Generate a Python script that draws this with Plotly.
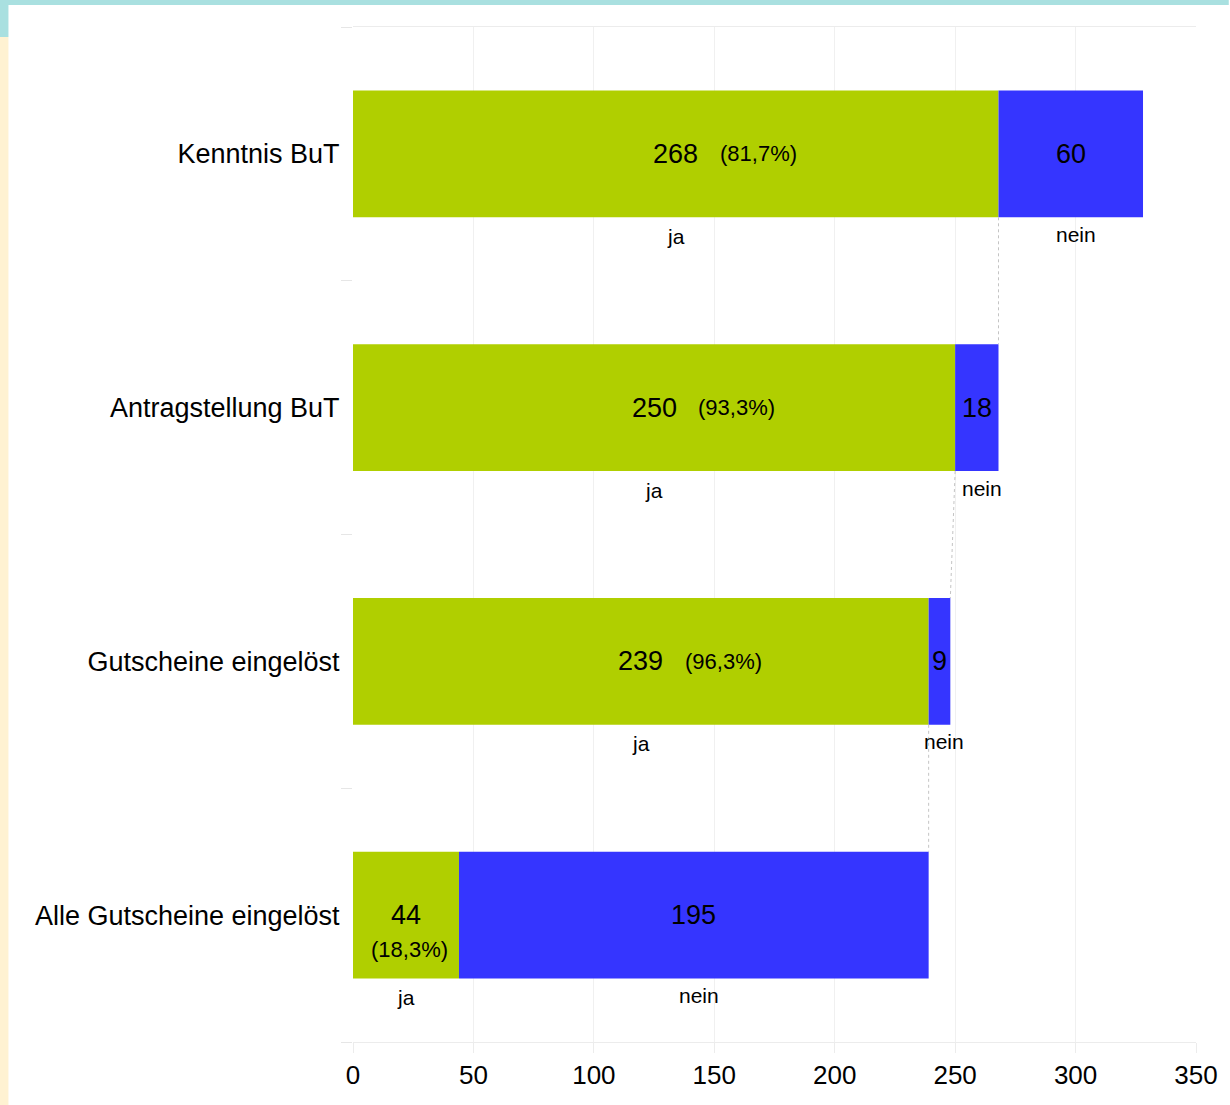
import plotly.graph_objects as go

categories = ["Kenntnis BuT", "Antragstellung BuT", "Gutscheine eingelöst", "Alle Gutscheine eingelöst"]
ja_values = [268, 250, 239, 44]
nein_values = [60, 18, 9, 195]
ja_pct = ["(81,7%)", "(93,3%)", "(96,3%)", "(18,3%)"]
seg_labels = ["ja", "nein"]
x_ticks = [0, 50, 100, 150, 200, 250, 300, 350]
title_text = "von Gutscheinen"

GREEN = "#B0CF00"
BLUE = "#3535FF"
FONT = "Liberation Sans, Arial, sans-serif"

W, H = 1230, 1105
ML, MR, MT, MB = 353, 28, 27, 63
PW, PH = W - ML - MR, H - MT - MB

def px_x(p):
    return (p - ML) / PW

def px_y(p):
    return (H - MB - p) / PH

ypos = list(range(len(categories)))
totals = [a + b for a, b in zip(ja_values, nein_values)]

fig = go.Figure()
fig.add_trace(go.Bar(y=ypos, x=ja_values, orientation="h", width=0.5,
                     marker=dict(color=GREEN, line=dict(width=0)), hoverinfo="skip",
                     showlegend=False))
fig.add_trace(go.Bar(y=ypos, x=nein_values, base=ja_values, orientation="h", width=0.5,
                     marker=dict(color=BLUE, line=dict(width=0)), hoverinfo="skip",
                     showlegend=False))

# connector lines: end of "ja" segment -> end of next bar
for i in range(len(categories) - 1):
    fig.add_trace(go.Scatter(x=[ja_values[i], totals[i + 1]], y=[i + 0.25, i + 1 - 0.25],
                             mode="lines", line=dict(color="#c4c4c4", width=1, dash="dot"),
                             hoverinfo="skip", showlegend=False))

ann = []
for i in range(len(categories)):
    jc = ja_values[i] / 2
    nc = ja_values[i] + nein_values[i] / 2
    if ja_values[i] > 100:
        ann.append(dict(x=jc, y=i, text=str(ja_values[i]), showarrow=False,
                        xanchor="center", yanchor="middle", font=dict(size=27, color="#000")))
        ann.append(dict(x=jc, y=i, text=ja_pct[i], showarrow=False, xshift=42,
                        xanchor="left", yanchor="middle", font=dict(size=22, color="#000")))
    else:
        ann.append(dict(x=jc, y=i, text=str(ja_values[i]), showarrow=False,
                        xanchor="center", yanchor="middle", font=dict(size=27, color="#000")))
        ann.append(dict(x=jc, y=i, text=ja_pct[i], showarrow=False, yshift=-34, xshift=4,
                        xanchor="center", yanchor="middle", font=dict(size=22, color="#000")))
    ann.append(dict(x=nc, y=i, text=str(nein_values[i]), showarrow=False,
                    xanchor="center", yanchor="middle", font=dict(size=27, color="#000")))
    ann.append(dict(x=jc, y=i + 0.25, text=seg_labels[0], showarrow=False, yshift=-19,
                    xanchor="center", yanchor="middle", font=dict(size=21, color="#000")))
    ann.append(dict(x=nc + 2, y=i + 0.25, text=seg_labels[1], showarrow=False, yshift=-17,
                    xanchor="center", yanchor="middle", font=dict(size=21, color="#000")))

# cut-off slide title at the very top
ann.append(dict(xref="paper", yref="paper", x=px_x(639), y=px_y(16), text=title_text,
                showarrow=False, xanchor="center", yanchor="bottom",
                font=dict(size=80, color="#000")))

shapes = [
    dict(type="rect", xref="paper", yref="paper", layer="below",
         x0=px_x(-5), x1=px_x(W + 5), y0=px_y(5), y1=px_y(-20),
         fillcolor="#A9E0E0", line=dict(width=0)),
    dict(type="rect", xref="paper", yref="paper", layer="below",
         x0=px_x(-5), x1=px_x(6), y0=px_y(37), y1=px_y(-20),
         fillcolor="#A9E0E0", line=dict(width=0)),
    dict(type="rect", xref="paper", yref="paper", layer="below",
         x0=px_x(-5), x1=px_x(6), y0=px_y(H + 20), y1=px_y(37),
         fillcolor="#FFF2D2", line=dict(width=0)),
]

fig.update_layout(
    width=W, height=H,
    margin=dict(l=ML, r=MR, t=MT, b=MB, pad=0),
    paper_bgcolor="white", plot_bgcolor="white",
    font=dict(family=FONT, color="#000"),
    barmode="overlay",
    annotations=ann, shapes=shapes,
    xaxis=dict(range=[0, 350], tickvals=x_ticks, ticktext=[str(v) for v in x_ticks],
               showgrid=True, gridcolor="#f0f0f0", gridwidth=1,
               zeroline=False, showline=True, linecolor="#ececec", linewidth=1, mirror=True,
               ticks="outside", ticklen=10, tickcolor="#ececec",
               tickfont=dict(size=26, color="#000")),
    yaxis=dict(range=[3.5, -0.5], tickmode="array", tickvals=ypos, ticktext=categories,
               showgrid=False, zeroline=False, showline=False,
               ticks="outside", ticklen=7, tickcolor="rgba(0,0,0,0)",
               tickfont=dict(size=27, color="#000"),
               minor=dict(tickmode="array", tickvals=[-0.5, 0.5, 1.5, 2.5, 3.5],
                          ticks="outside", ticklen=11, tickcolor="#e6e6e6", showgrid=False)),
)

fig.write_html("out.html")
